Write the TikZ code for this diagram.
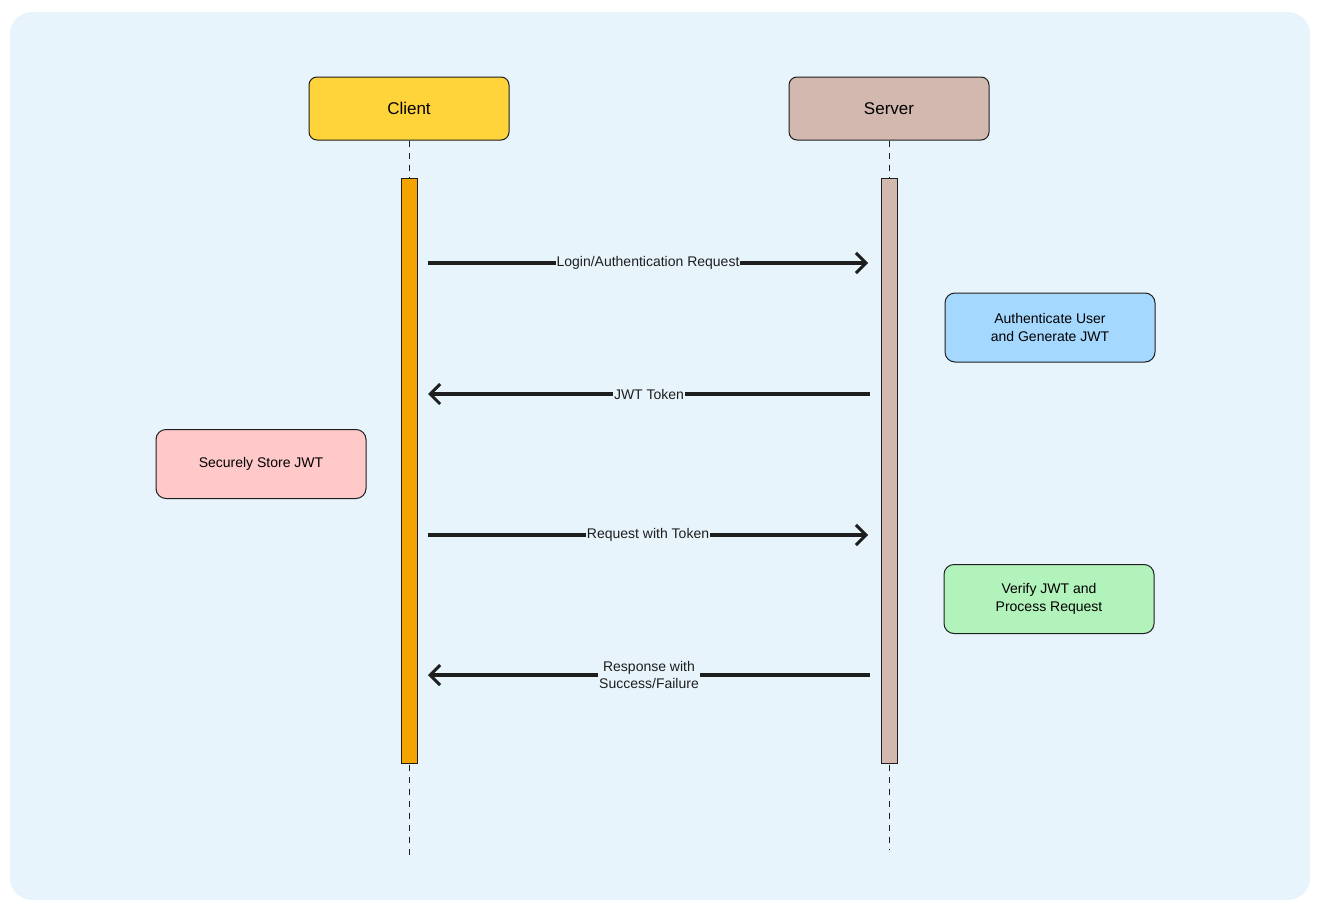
\documentclass[tikz,border=0pt]{standalone}
\usepackage{fontspec}
\setmainfont{Liberation Sans}
\usetikzlibrary{arrows.meta}
\definecolor{bg}{HTML}{E7F4FC}
\definecolor{cli}{HTML}{FFD43B}
\definecolor{srv}{HTML}{D2B8AE}
\definecolor{act}{HTML}{F5A300}
\definecolor{nblue}{HTML}{A5D8FF}
\definecolor{npink}{HTML}{FFC9C9}
\definecolor{ngreen}{HTML}{B2F2BB}
\definecolor{ink}{HTML}{1E1E1E}
\begin{document}
\begin{tikzpicture}[x=1pt,y=-1pt,
  actor/.style={draw=ink,line width=1pt,rounded corners=8pt,minimum width=200pt,minimum height=63pt,font=\fontsize{17}{20}\selectfont},
  note/.style={draw=ink,line width=1pt,rounded corners=10pt,minimum width=210pt,minimum height=69pt,align=center,font=\fontsize{14}{18}\selectfont},
  bar/.style={draw=ink,line width=1pt,minimum width=16pt,minimum height=585pt,inner sep=0pt},
  life/.style={draw=ink,line width=1pt,dash pattern=on 6pt off 6pt},
  msg/.style={draw=ink,line width=3.8pt,-{Straight Barb[length=10pt,width=20pt,line width=3pt]}},
  lbl/.style={fill=bg,inner sep=1pt,align=center,font=\fontsize{14}{17}\selectfont,text=ink}]
\path[use as bounding box] (0,0) rectangle (1320,910);
\fill[bg,rounded corners=22pt] (10,12) rectangle (1310,900);
\node[actor,fill=cli] (client) at (409,108.5) {Client};
\node[actor,fill=srv] (server) at (889,108.5) {Server};
\coordinate (cend) at (409,857);
\coordinate (send) at (889,850);
\draw[life] (client.south) -- (cend);
\draw[life] (server.south) -- (send);
\node[bar,fill=act] (cbar) at (409,470.5) {};
\node[bar,fill=srv] (sbar) at (889,470.5) {};
\node[note,fill=nblue] (auth) at (1050,327.5) {Authenticate User\\and Generate JWT};
\node[note,fill=npink] (store) at (261,464) {Securely Store JWT};
\node[note,fill=ngreen] (verify) at (1049,599) {Verify JWT and\\Process Request};
\coordinate (c1) at (428,263); \coordinate (s1) at (868,263);
\coordinate (s2) at (870,394); \coordinate (c2) at (428,394);
\coordinate (c3) at (428,535); \coordinate (s3) at (868,535);
\coordinate (s4) at (870,675); \coordinate (c4) at (428,675);
\draw[msg] (c1) -- node[lbl]{Login/Authentication Request} (s1);
\draw[msg] (s2) -- node[lbl]{JWT Token} (c2);
\draw[msg] (c3) -- node[lbl]{Request with Token} (s3);
\draw[msg] (s4) -- node[lbl]{Response with\\Success/Failure} (c4);
\end{tikzpicture}
\end{document}
